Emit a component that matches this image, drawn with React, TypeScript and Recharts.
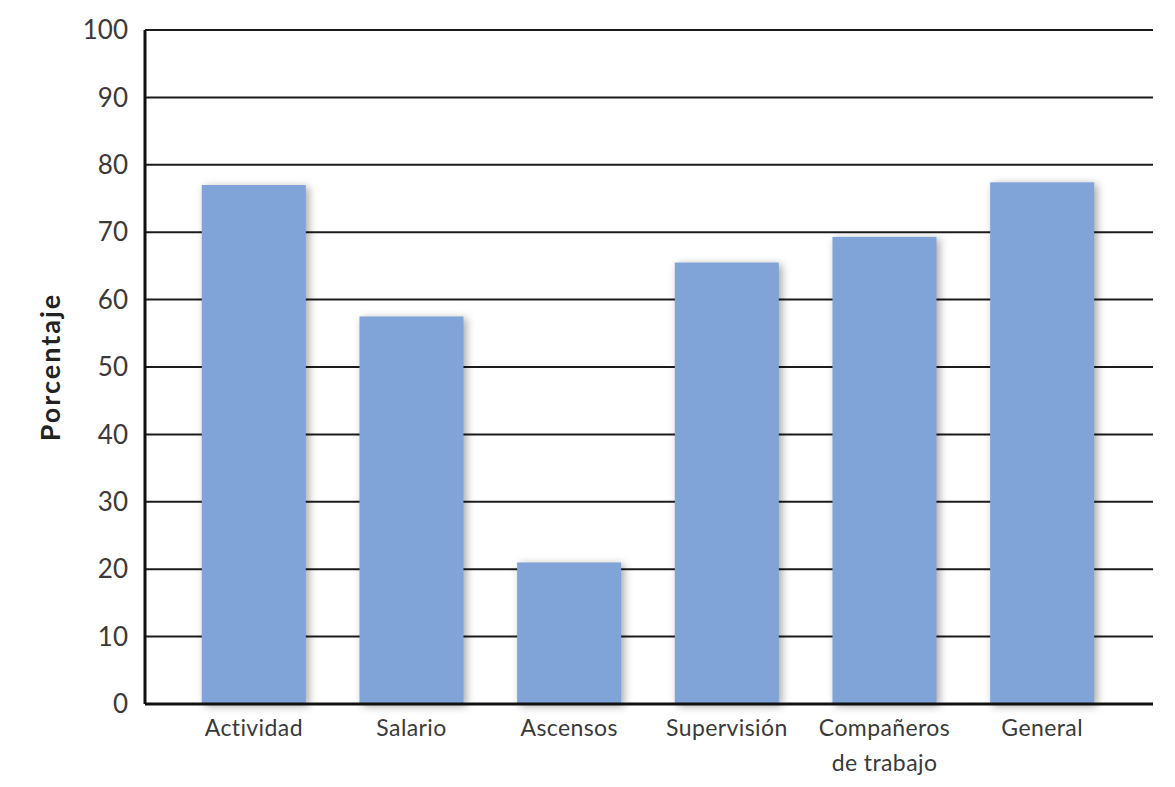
import { BarChart, Bar, XAxis, YAxis, CartesianGrid, Label } from 'recharts';

const categories = ['Actividad', 'Salario', 'Ascensos', 'Supervisión', 'Compañeros\nde trabajo', 'General'];
const percentages = [77, 57.5, 21, 65.5, 69.3, 77.4];
const yTicks = [0, 10, 20, 30, 40, 50, 60, 70, 80, 90, 100];

const data = categories.map((name, i) => ({ name, value: percentages[i] }));

const FONT = 'Lato, "Open Sans", sans-serif';

function CategoryTick(props: any) {
  const { x, y, payload } = props;
  const lines = String(payload.value).split('\n');
  return (
    <g transform={`translate(${x},${y})`}>
      {lines.map((line, i) => (
        <text
          key={i}
          x={0}
          y={i * 35}
          dy={24}
          textAnchor="middle"
          fontFamily={FONT}
          fontSize={23}
          letterSpacing={0.4}
          fill="#3a3a3a"
        >
          {line}
        </text>
      ))}
    </g>
  );
}

function ShadowBar(props: any) {
  const { x, y, width, height, fill } = props;
  return (
    <rect
      x={x}
      y={y}
      width={width}
      height={height}
      fill={fill}
      style={{ filter: 'drop-shadow(3px 2px 4px rgba(0,0,0,0.35))' }}
    />
  );
}

export default function App() {
  return (
    <div style={{ position: 'absolute', left: 0, top: 0, background: '#fff' }}>
      <BarChart
        width={1175}
        height={787}
        data={data}
        margin={{ top: 30, right: 22, left: 0, bottom: 0 }}
        barCategoryGap="17%"
      >
        <CartesianGrid vertical={false} stroke="#1c1c1c" strokeWidth={2} />
        <XAxis
          dataKey="name"
          height={83}
          padding={{ left: 30, right: 32 }}
          tickLine={false}
          axisLine={{ stroke: '#111', strokeWidth: 3 }}
          tick={<CategoryTick />}
          interval={0}
        />
        <YAxis
          width={145}
          domain={[0, 100]}
          ticks={yTicks}
          tickLine={false}
          axisLine={{ stroke: '#111', strokeWidth: 3 }}
          tickMargin={11}
          tick={{ fontFamily: FONT, fontSize: 26, fill: '#3a3a3a' }}
        >
          <Label
            value="Porcentaje"
            angle={-90}
            position="insideLeft"
            offset={50}
            style={{ fontFamily: FONT, fontSize: 27, fontWeight: 700, letterSpacing: 2, fill: '#222', textAnchor: 'middle' }}
          />
        </YAxis>
        <Bar dataKey="value" fill="#80a4d8" shape={<ShadowBar />} isAnimationActive={false} />
      </BarChart>
    </div>
  );
}
